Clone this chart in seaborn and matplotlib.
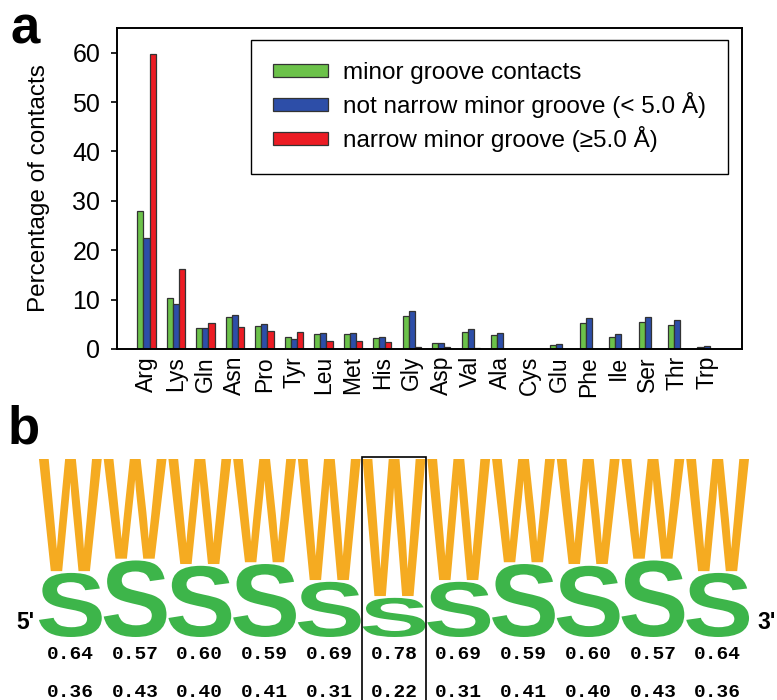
import matplotlib
matplotlib.use('Agg')
import matplotlib.pyplot as plt
import numpy as np
import pandas as pd
import seaborn as sns
from matplotlib.textpath import TextPath
from matplotlib.patches import PathPatch, Rectangle
from matplotlib.font_manager import FontProperties
from matplotlib.transforms import Affine2D

# panel a: percentage of contacts per residue
residues = ['Arg', 'Lys', 'Gln', 'Asn', 'Pro', 'Tyr', 'Leu', 'Met', 'His', 'Gly',
            'Asp', 'Val', 'Ala', 'Cys', 'Glu', 'Phe', 'Ile', 'Ser', 'Thr', 'Trp']
minor_groove = [28.0, 10.3, 4.3, 6.4, 4.7, 2.4, 3.0, 3.0, 2.3, 6.7,
                1.2, 3.4, 2.8, 0.0, 0.9, 5.2, 2.4, 5.4, 4.9, 0.5]
not_narrow = [22.4, 9.1, 4.2, 6.8, 5.0, 2.1, 3.3, 3.3, 2.5, 7.7,
              1.3, 4.0, 3.3, 0.0, 1.1, 6.2, 3.0, 6.4, 5.8, 0.6]
narrow = [59.8, 16.3, 5.3, 4.5, 3.6, 3.5, 1.7, 1.6, 1.4, 0.5,
          0.5, 0.2, 0.0, 0.0, 0.0, 0.0, 0.0, 0.0, 0.0, 0.0]
series = ['minor groove contacts',
          'not narrow minor groove (< 5.0 Å)',
          'narrow minor groove (≥5.0 Å)']
bar_colors = ['#6cc24a', '#2d4ea8', '#ec1c24']

# panel b: W/S frequencies per position
w_freq = [0.64, 0.57, 0.60, 0.59, 0.69, 0.78, 0.69, 0.59, 0.60, 0.57, 0.64]
s_freq = [0.36, 0.43, 0.40, 0.41, 0.31, 0.22, 0.31, 0.41, 0.40, 0.43, 0.36]
w_color = '#f5ab21'
s_color = '#3db54a'

sns.set_theme(style='white')
plt.rcParams['font.family'] = ['Liberation Sans', 'DejaVu Sans']
plt.rcParams.update({'text.color': 'black', 'axes.labelcolor': 'black',
                     'xtick.color': 'black', 'ytick.color': 'black'})

df = pd.DataFrame({
    'residue': residues * 3,
    'pct': minor_groove + not_narrow + narrow,
    'group': [series[0]] * 20 + [series[1]] * 20 + [series[2]] * 20,
})

fig = plt.figure(figsize=(7.77, 7.0), dpi=100)

ax = fig.add_axes([117 / 777, 1 - 349 / 700, 625 / 777, 321 / 700])
sns.barplot(data=df, x='residue', y='pct', hue='group', hue_order=series,
            palette=bar_colors, saturation=1, width=0.62, edgecolor='#333333',
            linewidth=0.9, errorbar=None, ax=ax)
ax.set_xlim(-1.0, 20.2)
ax.set_ylim(0, 65)
ax.set_yticks(range(0, 61, 10))
ax.set_xlabel('')
ax.set_ylabel('Percentage of contacts', fontsize=17.5, labelpad=16)
for s in ax.spines.values():
    s.set_visible(True)
    s.set_color('black')
    s.set_linewidth(1.4)
ax.tick_params(axis='y', direction='out', length=4, width=1.2, labelsize=18,
               left=True, color='black', pad=8)
ax.tick_params(axis='x', length=0, labelsize=16.5, pad=5)
plt.setp(ax.get_xticklabels(), rotation=90)

handles, labels = ax.get_legend_handles_labels()
leg = ax.legend(handles, labels, loc='upper right', bbox_to_anchor=(0.978, 0.963),
                borderaxespad=0, fontsize=17.5, frameon=True, fancybox=False,
                edgecolor='black', framealpha=1, borderpad=0.9, handlelength=2.25,
                handleheight=0.45, handletextpad=0.65, labelspacing=0.33)
leg.get_frame().set_linewidth(1.0)

fig.text(10 / 777, 1 - 43 / 700, 'a', fontsize=38, fontweight='bold', va='baseline')
fig.text(8 / 777, 1 - 443 / 700, 'b', fontsize=38, fontweight='bold', va='baseline')

# sequence logo
ax2 = fig.add_axes([38 / 777, 1 - 637 / 700, 712 / 777, 178 / 700])
ax2.set_xlim(-0.5, 10.5)
ax2.set_ylim(0, 1)
ax2.axis('off')

fp = FontProperties(family='Liberation Sans', weight='bold')


def draw_letter(ch, x, y, w, h, color):
    tp = TextPath((0, 0), ch, size=1, prop=fp)
    bb = tp.get_extents()
    tr = Affine2D().translate(-bb.x0, -bb.y0).scale(w / bb.width, h / bb.height).translate(x, y)
    ax2.add_patch(PathPatch(tr.transform_path(tp), fc=color, ec='none', clip_on=False))


for i, (wf, sf) in enumerate(zip(w_freq, s_freq)):
    draw_letter('S', i - 0.485, 0, 0.97, sf, s_color)
    draw_letter('W', i - 0.485, sf + 0.01, 0.97, wf - 0.01, w_color)
    ax2.text(i, -0.10, f'{wf:.2f}', ha='center', va='center',
             family='Liberation Mono', fontweight='bold', fontsize=14)
    ax2.text(i, -0.31, f'{sf:.2f}', ha='center', va='center',
             family='Liberation Mono', fontweight='bold', fontsize=14)

ax2.text(-0.56, 0.08, "5'", ha='right', va='center', fontsize=16.5, fontweight='bold')
ax2.text(10.62, 0.08, "3'", ha='left', va='center', fontsize=16.5, fontweight='bold')
ax2.add_patch(Rectangle((4.5, -0.45), 1.0, 1.461, fill=False, ec='black',
                        lw=1.2, clip_on=False))

fig.savefig('out.png', dpi=100)
